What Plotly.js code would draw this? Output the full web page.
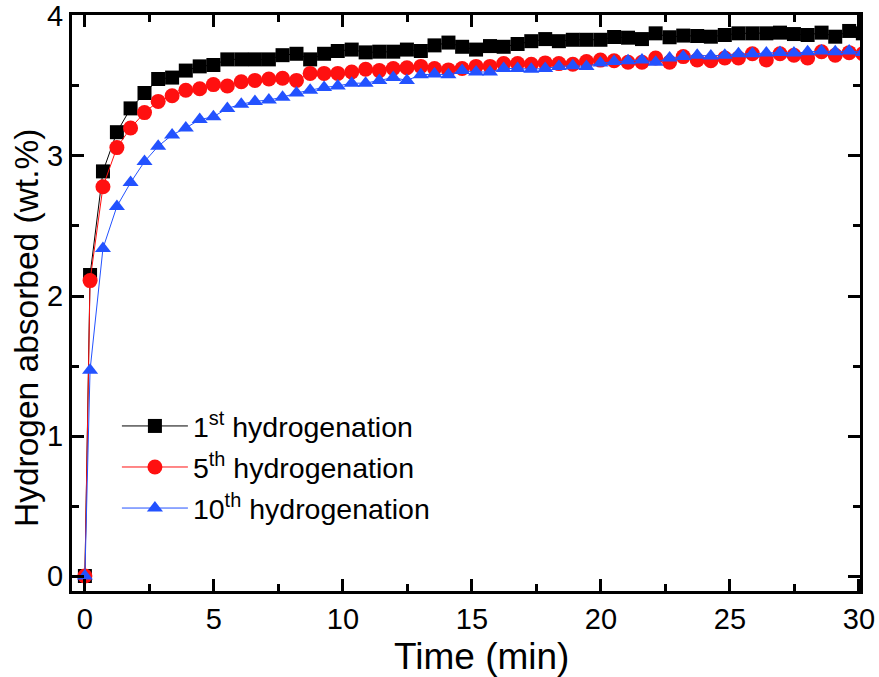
<!DOCTYPE html>
<html>
<head>
<meta charset="utf-8">
<script src="https://cdn.plot.ly/plotly-3.0.1.min.js"></script>
<style>
html, body { margin: 0; padding: 0; background: #fff; }
#chart { width: 879px; height: 677px; }
</style>
</head>
<body>
<div id="chart"></div>
<script>
// Time (min)
const time = [0, 0.2,
  0.70, 1.24, 1.77, 2.31, 2.84, 3.38, 3.91, 4.45, 4.98, 5.52,
  6.06, 6.59, 7.13, 7.66, 8.20, 8.73, 9.27, 9.80, 10.34, 10.88,
  11.41, 11.95, 12.48, 13.02, 13.55, 14.09, 14.62, 15.16, 15.70, 16.23,
  16.77, 17.30, 17.84, 18.37, 18.91, 19.44, 19.98, 20.51, 21.05, 21.59,
  22.12, 22.66, 23.19, 23.73, 24.26, 24.80, 25.33, 25.87, 26.41, 26.94,
  27.48, 28.01, 28.55, 29.08, 29.62, 30.15];

// Hydrogen absorbed (wt.%)
const h1st = [0, 2.15,
  2.89, 3.17, 3.34, 3.45, 3.55, 3.56, 3.61, 3.64, 3.65, 3.69,
  3.69, 3.69, 3.69, 3.72, 3.73, 3.69, 3.73, 3.75, 3.76, 3.74,
  3.745, 3.745, 3.76, 3.75, 3.79, 3.81, 3.78, 3.76, 3.785, 3.78,
  3.80, 3.82, 3.835, 3.82, 3.83, 3.83, 3.83, 3.85, 3.845, 3.835,
  3.876, 3.848, 3.86, 3.857, 3.852, 3.864, 3.876, 3.876, 3.876, 3.881,
  3.871, 3.864, 3.881, 3.852, 3.893, 3.876];

const h5th = [0, 2.11,
  2.78, 3.06, 3.20, 3.31, 3.39, 3.43, 3.47, 3.48, 3.51, 3.50,
  3.53, 3.54, 3.55, 3.555, 3.54, 3.59, 3.59, 3.59, 3.60, 3.62,
  3.61, 3.625, 3.63, 3.64, 3.625, 3.615, 3.625, 3.64, 3.64, 3.66,
  3.66, 3.655, 3.665, 3.66, 3.655, 3.675, 3.685, 3.68, 3.67, 3.67,
  3.70, 3.67, 3.71, 3.686, 3.68, 3.70, 3.70, 3.73, 3.686, 3.73,
  3.72, 3.70, 3.745, 3.72, 3.738, 3.73];

const h10th = [0, 1.47,
  2.34, 2.64, 2.81, 2.96, 3.07, 3.15, 3.20, 3.26, 3.28, 3.34,
  3.37, 3.39, 3.40, 3.42, 3.45, 3.47, 3.49, 3.50, 3.52, 3.52,
  3.54, 3.56, 3.54, 3.58, 3.585, 3.58, 3.61, 3.60, 3.60, 3.625,
  3.625, 3.62, 3.625, 3.64, 3.645, 3.64, 3.665, 3.675, 3.68, 3.686,
  3.67, 3.70, 3.71, 3.72, 3.714, 3.72, 3.73, 3.73, 3.735, 3.74,
  3.735, 3.745, 3.75, 3.745, 3.75, 3.74];

const seriesNames = ['1<sup>st</sup> hydrogenation', '5<sup>th</sup> hydrogenation', '10<sup>th</sup> hydrogenation'];
const xTitle = 'Time (min)';
const yTitle = 'Hydrogen absorbed (wt.%)';

const FONT = 'Liberation Sans, Arial, Helvetica, sans-serif';

const traces = [
  { x: time, y: h1st, name: seriesNames[0], legendgroup: 'g1', mode: 'lines+markers',
    line: { color: '#000000', width: 1 },
    marker: { symbol: 'square', size: 14, color: '#000000', line: { width: 0 } } },
  { x: time, y: h5th, name: seriesNames[1], legendgroup: 'g5', mode: 'lines+markers',
    line: { color: '#ff1010', width: 1 },
    marker: { symbol: 'circle', size: 15, color: '#ff1010', line: { width: 0 } } },
  { x: time, y: h10th, name: seriesNames[2], legendgroup: 'g10', mode: 'lines+markers',
    line: { color: '#2352ff', width: 1 },
    marker: { symbol: 'triangle-up', size: 14, color: '#2352ff', line: { width: 0 } } }
];

const axisCommon = {
  showline: true, linecolor: '#000', linewidth: 3, mirror: 'allticks',
  ticks: 'inside', ticklen: 12, tickwidth: 3, tickcolor: '#000',
  showgrid: false, zeroline: false,
  tickfont: { family: FONT, size: 29, color: '#000' }
};

const layout = {
  width: 879, height: 677,
  margin: { l: 72, r: 19, t: 15, b: 86, pad: 0 },
  paper_bgcolor: '#fff', plot_bgcolor: '#fff',
  showlegend: true,
  xaxis: Object.assign({}, axisCommon, {
    range: [-0.5, 30.04], dtick: 5, tick0: 0,
    minor: { dtick: 2.5, tick0: 0, ticks: 'inside', ticklen: 7, tickwidth: 3, tickcolor: '#000', showgrid: false }
  }),
  yaxis: Object.assign({}, axisCommon, {
    range: [-0.107, 4.007], dtick: 1, tick0: 0,
    minor: { dtick: 0.5, tick0: 0, ticks: 'inside', ticklen: 7, tickwidth: 3, tickcolor: '#000', showgrid: false }
  }),
  legend: {
    x: 0.057, y: 0.33, xanchor: 'left', yanchor: 'top',
    bgcolor: 'rgba(0,0,0,0)', borderwidth: 0,
    font: { family: FONT, size: 28.5, color: '#000' },
    itemwidth: 66, tracegroupgap: 1
  },
  annotations: [
    { text: xTitle, xref: 'paper', yref: 'paper', x: 0.5203, y: -0.114,
      xanchor: 'center', yanchor: 'middle', showarrow: false,
      font: { family: FONT, size: 37, color: '#000' } },
    { text: yTitle, xref: 'paper', yref: 'paper', x: -0.058, y: 0.457,
      xanchor: 'center', yanchor: 'middle', showarrow: false, textangle: -90,
      font: { family: FONT, size: 33.5, color: '#000' } }
  ]
};

Plotly.newPlot('chart', traces, layout, { displayModeBar: false, staticPlot: true });
</script>
</body>
</html>
